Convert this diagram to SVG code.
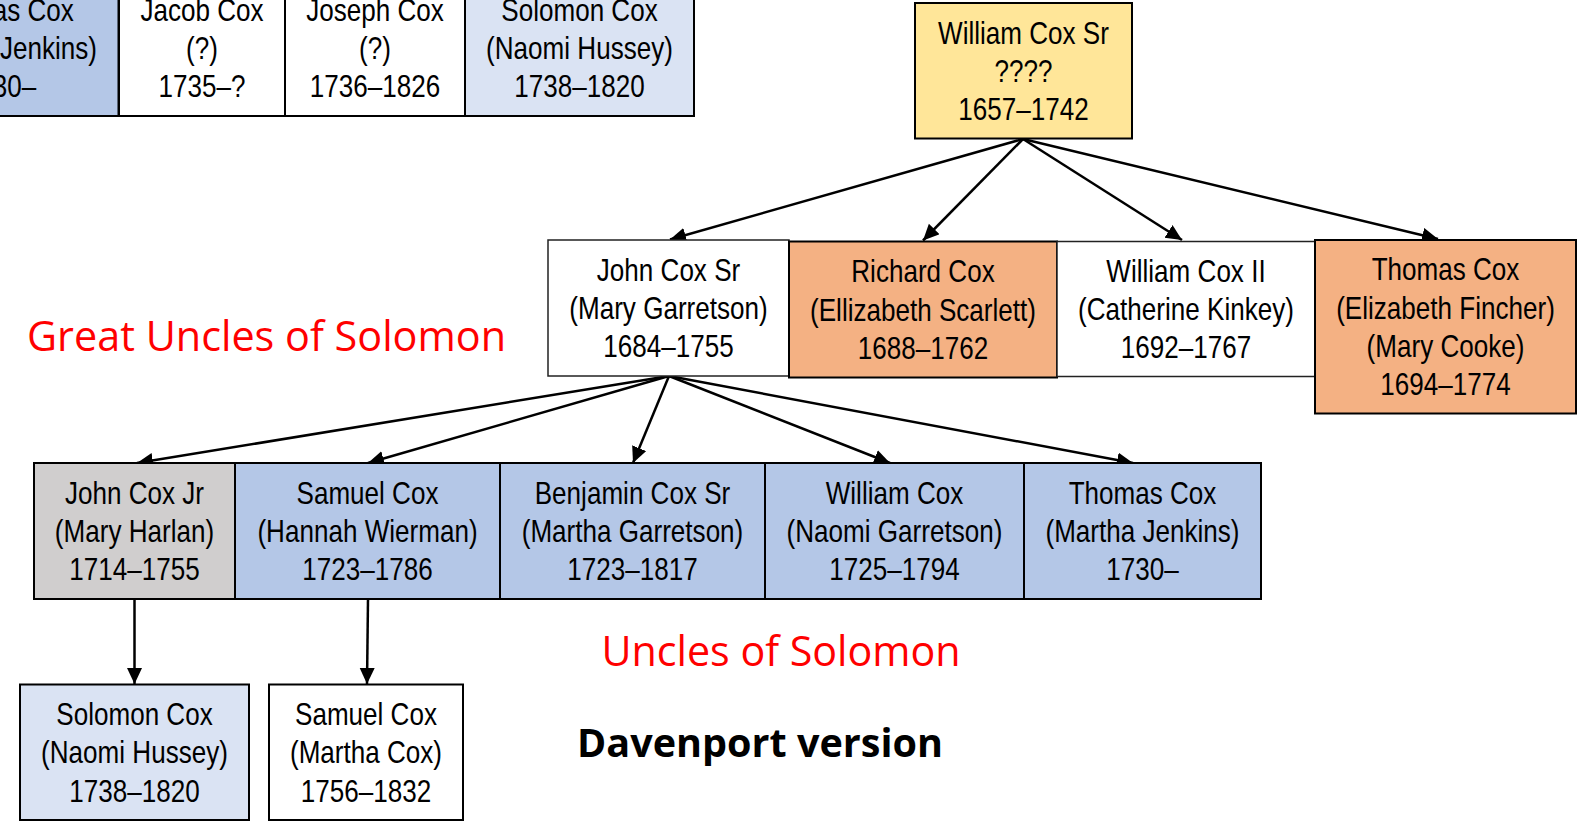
<svg xmlns="http://www.w3.org/2000/svg" width="1588" height="829" viewBox="0 0 1588 829">
<style>
.bx{stroke:#000;stroke-width:2}
.thin{stroke:#222;stroke-width:1.5}
.t{font-family:'Liberation Sans','Arial',sans-serif;font-size:31.8px;fill:#000;text-anchor:middle}
.red{font-family:'Open Sans','Noto Sans',sans-serif;font-size:41.5px;fill:#FF0000}
.bold{font-family:'Open Sans','Noto Sans',sans-serif;font-size:39.5px;font-weight:bold;fill:#000}
.c{stroke:#000;stroke-width:2.5;fill:none;marker-end:url(#ah)}
</style>
<defs>
<marker id="ah" markerUnits="userSpaceOnUse" markerWidth="17" markerHeight="16" refX="16" refY="7.5" orient="auto">
<path d="M0,0 L16,7.5 L0,15 z" fill="#000"/>
</marker>
</defs>
<rect width="1588" height="829" fill="#fff"/>

<g id="connectors">
<line class="c" x1="1023" y1="139" x2="670" y2="239.5"/>
<line class="c" x1="1023" y1="139" x2="923" y2="240.5"/>
<line class="c" x1="1023" y1="139" x2="1182" y2="240"/>
<line class="c" x1="1023" y1="139" x2="1438" y2="239"/>
<line class="c" x1="669" y1="376" x2="137" y2="463"/>
<line class="c" x1="669" y1="376" x2="368" y2="463"/>
<line class="c" x1="669" y1="376" x2="633" y2="463"/>
<line class="c" x1="669" y1="376" x2="890" y2="463"/>
<line class="c" x1="669" y1="376" x2="1133" y2="463"/>
<line class="c" x1="134.5" y1="599" x2="134.5" y2="684"/>
<line class="c" x1="368" y1="599" x2="367" y2="684"/>
</g>

<g id="n-thomas-top">
<rect class="bx" x="-118" y="-20" width="236.5" height="136" fill="#B4C7E7"/>
<text class="t" transform="translate(0 20.7) scale(0.82 1)">Thomas Cox</text>
<text class="t" transform="translate(0 59) scale(0.82 1)">(Martha Jenkins)</text>
<text class="t" transform="translate(0 97.3) scale(0.82 1)">1730–</text>
</g>
<g id="n-jacob">
<rect class="bx" x="119" y="-20" width="166" height="136" fill="#fff"/>
<text class="t" transform="translate(202 20.7) scale(0.82 1)">Jacob Cox</text>
<text class="t" transform="translate(202 59) scale(0.82 1)">(?)</text>
<text class="t" transform="translate(202 97.3) scale(0.82 1)">1735–?</text>
</g>
<g id="n-joseph">
<rect class="bx" x="285" y="-20" width="180" height="136" fill="#fff"/>
<text class="t" transform="translate(375 20.7) scale(0.82 1)">Joseph Cox</text>
<text class="t" transform="translate(375 59) scale(0.82 1)">(?)</text>
<text class="t" transform="translate(375 97.3) scale(0.82 1)">1736–1826</text>
</g>
<g id="n-solomon-top">
<rect class="bx" x="465" y="-20" width="229" height="136" fill="#DAE3F3"/>
<text class="t" transform="translate(579.5 20.7) scale(0.82 1)">Solomon Cox</text>
<text class="t" transform="translate(579.5 59) scale(0.82 1)">(Naomi Hussey)</text>
<text class="t" transform="translate(579.5 97.3) scale(0.82 1)">1738–1820</text>
</g>

<g id="n-william-sr">
<rect class="bx" x="915" y="3" width="217" height="135.5" fill="#FFE699"/>
<text class="t" transform="translate(1023.5 43.5) scale(0.82 1)">William Cox Sr</text>
<text class="t" transform="translate(1023.5 81.8) scale(0.82 1)">????</text>
<text class="t" transform="translate(1023.5 120) scale(0.82 1)">1657–1742</text>
</g>

<g id="n-john-sr">
<rect class="thin" x="548" y="240" width="241" height="136" fill="#fff"/>
<text class="t" transform="translate(668.5 280.7) scale(0.82 1)">John Cox Sr</text>
<text class="t" transform="translate(668.5 319) scale(0.82 1)">(Mary Garretson)</text>
<text class="t" transform="translate(668.5 357.3) scale(0.82 1)">1684–1755</text>
</g>
<g id="n-richard">
<rect class="bx" x="789" y="241.5" width="268" height="136" fill="#F4B183"/>
<text class="t" transform="translate(923 282.2) scale(0.82 1)">Richard Cox</text>
<text class="t" transform="translate(923 320.5) scale(0.82 1)">(Ellizabeth Scarlett)</text>
<text class="t" transform="translate(923 358.8) scale(0.82 1)">1688–1762</text>
</g>
<g id="n-william-ii">
<rect class="thin" x="1057" y="241.5" width="258" height="135" fill="#fff"/>
<text class="t" transform="translate(1186 281.7) scale(0.82 1)">William Cox II</text>
<text class="t" transform="translate(1186 320) scale(0.82 1)">(Catherine Kinkey)</text>
<text class="t" transform="translate(1186 358.3) scale(0.82 1)">1692–1767</text>
</g>
<g id="n-thomas-mid">
<rect class="bx" x="1315" y="240" width="261" height="173.5" fill="#F4B183"/>
<text class="t" transform="translate(1445.5 280.3) scale(0.82 1)">Thomas Cox</text>
<text class="t" transform="translate(1445.5 318.6) scale(0.82 1)">(Elizabeth Fincher)</text>
<text class="t" transform="translate(1445.5 356.9) scale(0.82 1)">(Mary Cooke)</text>
<text class="t" transform="translate(1445.5 395.2) scale(0.82 1)">1694–1774</text>
</g>

<g id="n-john-jr">
<rect class="bx" x="34" y="463" width="201" height="136" fill="#D0CECE"/>
<text class="t" transform="translate(134.5 503.7) scale(0.82 1)">John Cox Jr</text>
<text class="t" transform="translate(134.5 542) scale(0.82 1)">(Mary Harlan)</text>
<text class="t" transform="translate(134.5 580.3) scale(0.82 1)">1714–1755</text>
</g>
<g id="n-samuel">
<rect class="bx" x="235" y="463" width="265" height="136" fill="#B4C7E7"/>
<text class="t" transform="translate(367.5 503.7) scale(0.82 1)">Samuel Cox</text>
<text class="t" transform="translate(367.5 542) scale(0.82 1)">(Hannah Wierman)</text>
<text class="t" transform="translate(367.5 580.3) scale(0.82 1)">1723–1786</text>
</g>
<g id="n-benjamin">
<rect class="bx" x="500" y="463" width="265" height="136" fill="#B4C7E7"/>
<text class="t" transform="translate(632.5 503.7) scale(0.82 1)">Benjamin Cox Sr</text>
<text class="t" transform="translate(632.5 542) scale(0.82 1)">(Martha Garretson)</text>
<text class="t" transform="translate(632.5 580.3) scale(0.82 1)">1723–1817</text>
</g>
<g id="n-william">
<rect class="bx" x="765" y="463" width="259" height="136" fill="#B4C7E7"/>
<text class="t" transform="translate(894.5 503.7) scale(0.82 1)">William Cox</text>
<text class="t" transform="translate(894.5 542) scale(0.82 1)">(Naomi Garretson)</text>
<text class="t" transform="translate(894.5 580.3) scale(0.82 1)">1725–1794</text>
</g>
<g id="n-thomas-bot">
<rect class="bx" x="1024" y="463" width="237" height="136" fill="#B4C7E7"/>
<text class="t" transform="translate(1142.5 503.7) scale(0.82 1)">Thomas Cox</text>
<text class="t" transform="translate(1142.5 542) scale(0.82 1)">(Martha Jenkins)</text>
<text class="t" transform="translate(1142.5 580.3) scale(0.82 1)">1730–</text>
</g>

<g id="n-solomon">
<rect class="bx" x="20" y="684.5" width="229" height="135.5" fill="#DAE3F3"/>
<text class="t" transform="translate(134.5 725) scale(0.82 1)">Solomon Cox</text>
<text class="t" transform="translate(134.5 763.3) scale(0.82 1)">(Naomi Hussey)</text>
<text class="t" transform="translate(134.5 801.5) scale(0.82 1)">1738–1820</text>
</g>
<g id="n-samuel-jr">
<rect class="bx" x="269" y="684.5" width="194" height="135.5" fill="#fff"/>
<text class="t" transform="translate(366 725) scale(0.82 1)">Samuel Cox</text>
<text class="t" transform="translate(366 763.3) scale(0.82 1)">(Martha Cox)</text>
<text class="t" transform="translate(366 801.5) scale(0.82 1)">1756–1832</text>
</g>

<g id="labels">
<text class="red" x="27" y="351" textLength="479" lengthAdjust="spacingAndGlyphs">Great Uncles of Solomon</text>
<text class="red" x="601.5" y="666" textLength="359" lengthAdjust="spacingAndGlyphs">Uncles of Solomon</text>
<text class="bold" x="577" y="757" textLength="366" lengthAdjust="spacingAndGlyphs">Davenport version</text>
</g>
</svg>
